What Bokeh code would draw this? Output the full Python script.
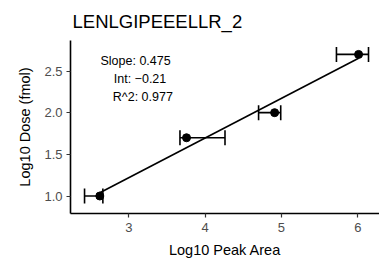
import numpy as np
from bokeh.plotting import figure
from bokeh.models import ColumnDataSource, Whisker, TeeHead, Range1d, Label
from bokeh.embed import file_html
from bokeh.resources import INLINE

# Data
title_text = "LENLGIPEEELLR_2"
peak_area = [2.62, 3.756, 4.91, 6.01]        # Log10 Peak Area (mean)
peak_lo = [2.42, 3.67, 4.70, 5.72]           # error bar lower
peak_hi = [2.66, 4.26, 4.99, 6.14]           # error bar upper
dose = [1.0, 1.699, 2.0, 2.699]              # Log10 Dose (fmol)
x_ticks = [3, 4, 5, 6]
y_ticks = [1.0, 1.5, 2.0, 2.5]
stats_lines = ["Slope: 0.475", "Int: \u22120.21", "R^2: 0.977"]

src = ColumnDataSource(dict(x=peak_area, lo=peak_lo, hi=peak_hi, y=dose))

p = figure(width=379, height=263, output_backend="svg", toolbar_location=None,
           x_range=Range1d(2.236, 6.284), y_range=Range1d(0.79, 2.866),
           min_border_left=70, min_border_right=0, min_border_top=39,
           min_border_bottom=50)
p.outline_line_color = None
p.background_fill_color = "white"
p.border_fill_color = "white"
p.xgrid.visible = False
p.ygrid.visible = False

p.title.text = title_text
p.title.text_font = "Liberation Sans"
p.title.text_font_size = "18.5px"
p.title.text_font_style = "normal"
p.title.text_color = "black"
p.title.align = "left"
p.title.offset = 2
p.title.standoff = 17

for ax in (p.xaxis, p.yaxis):
    ax.axis_line_color = "black"
    ax.axis_line_width = 1.6
    ax.major_tick_line_color = "#333333"
    ax.major_tick_line_width = 1.2
    ax.major_tick_out = 4
    ax.major_tick_in = 0
    ax.minor_tick_line_color = None
    ax.major_label_text_color = "#4D4D4D"
    ax.major_label_text_font = "Liberation Sans"
    ax.major_label_text_font_size = "13px"
    ax.axis_label_text_font = "Liberation Sans"
    ax.axis_label_text_font_size = "14.5px"
    ax.axis_label_text_font_style = "normal"
    ax.axis_label_text_color = "black"

p.xaxis.ticker = x_ticks
p.yaxis.ticker = y_ticks
p.yaxis.major_label_overrides = {1.0: "1.0", 1.5: "1.5", 2.0: "2.0", 2.5: "2.5"}
p.xaxis.axis_label = "Log10 Peak Area"
p.yaxis.axis_label = "Log10 Dose (fmol)"
p.xaxis.major_label_standoff = 5
p.yaxis.major_label_standoff = 4
p.xaxis.axis_label_standoff = 7
p.yaxis.axis_label_standoff = 8

# regression fit line
slope, intercept = np.polyfit(peak_area, dose, 1)
fx = np.array([min(peak_area), max(peak_area)])
p.line(fx, slope * fx + intercept, line_color="black", line_width=1.6)

# error bars
wh = Whisker(source=src, base="y", lower="lo", upper="hi", dimension="width",
             line_color="black", line_width=1.6,
             lower_head=TeeHead(size=15, line_color="black", line_width=1.6),
             upper_head=TeeHead(size=15, line_color="black", line_width=1.6))
p.add_layout(wh)

p.scatter("x", "y", source=src, size=8, color="black")

# stats text
stat_x = [2.629, 2.803, 2.79]
stat_y = [2.619, 2.399, 2.19]
for s, sx, sy in zip(stats_lines, stat_x, stat_y):
    p.add_layout(Label(x=sx, y=sy, text=s, text_font="Liberation Sans",
                       text_font_size="12.5px", text_baseline="middle",
                       text_align="left", text_color="black"))

open("out.html", "w").write(file_html(p, INLINE))
